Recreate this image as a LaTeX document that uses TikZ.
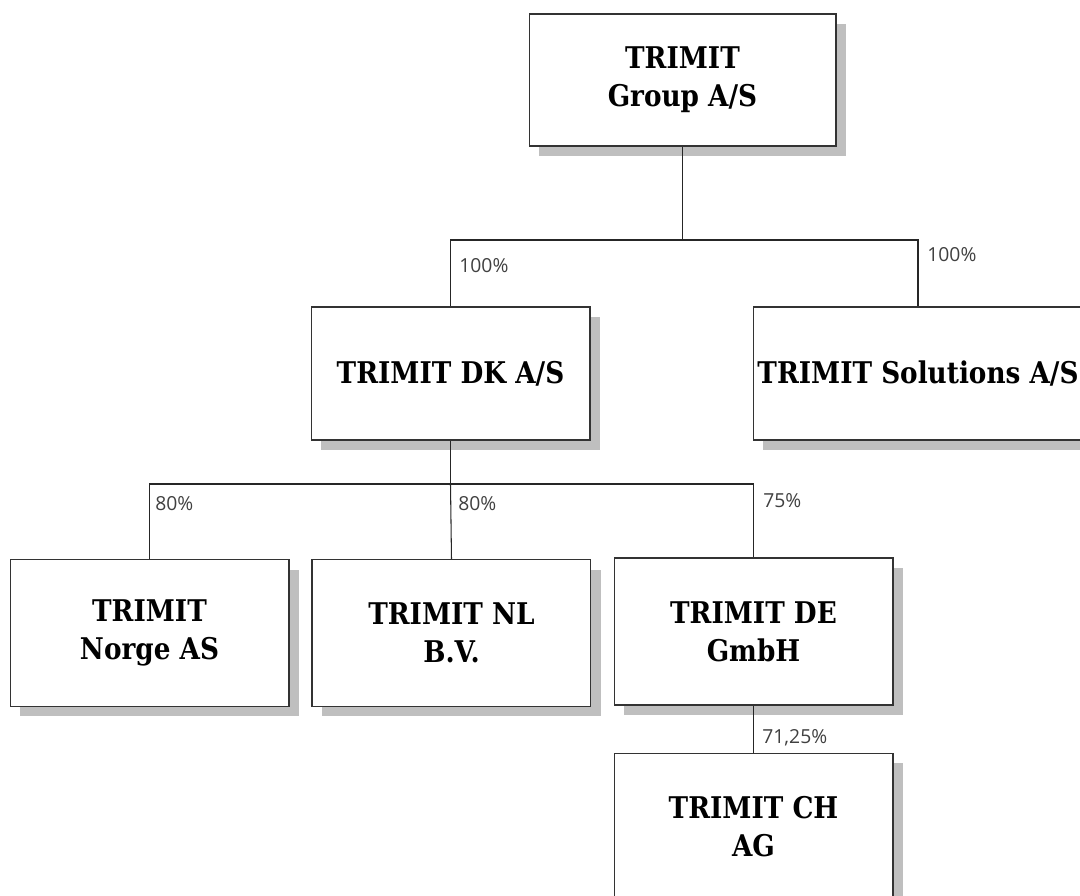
\documentclass[tikz,border=0pt]{standalone}
\usepackage{fontspec}
\newfontfamily\boxfont[FakeStretch=0.88]{DejaVu Serif}
\newfontfamily\pctfont{Open Sans}
\usetikzlibrary{positioning,shadows}

\begin{document}
\begin{tikzpicture}[x=0.02cm, y=-0.02cm,
  company/.style={draw=black!80, line width=0.6pt, fill=white, align=center,
    font=\boxfont\bfseries\fontsize{17}{21.5}\selectfont,
    drop shadow={shadow xshift=0.2cm, shadow yshift=-0.2cm, fill=black!25, opacity=1},
    minimum width=5.58cm, minimum height=2.94cm, inner sep=0pt},
  share/.style={anchor=west, font=\pctfont\fontsize{11}{13}\selectfont, text=black!75, inner sep=0pt},
  link/.style={draw=black!85, line width=0.6pt}]
  \useasboundingbox (0,0) rectangle (1080,896);
  % parent and first level
  \node[company, minimum width=6.14cm, minimum height=2.64cm] (group) at (682.5,80) {TRIMIT\\Group A/S};
  \node[company, minimum height=2.66cm] (dk) at (450.5,373.5) {TRIMIT DK A/S};
  \node[company, minimum width=6.6cm, minimum height=2.66cm] (sol) at (918,373.5) {TRIMIT Solutions A/S};
  % subsidiaries of the DK company
  \node[company] (norge) at (149.5,633) {TRIMIT\\Norge AS};
  \node[company, right=0.44cm of norge] (nl) {TRIMIT NL\\B.V.};
  \node[company] (de) at (753.5,631.5) {TRIMIT DE\\GmbH};
  \node[company, below=0.94cm of de] (ch) {TRIMIT CH\\AG};
  % ownership lines
  \coordinate (bus1) at (682.5,240);
  \draw[link] (group.south) -- (bus1) -| (dk.north);
  \draw[link] (bus1) -| (sol.north);
  \coordinate (bus2) at (450.5,484);
  \draw[link] (dk.south) -- (bus2) -| (norge.north);
  \draw[link] (bus2) -- (nl.north);
  \draw[link] (bus2) -| (de.north);
  \draw[link] (de.south) -- (ch.north);
  % shares
  \node[share] (p-dk) at (459,266) {100\%};
  \node[share] (p-sol) at (927,255) {100\%};
  \node[share] (p-norge) at (155,504) {80\%};
  \node[share] (p-nl) at (458,504) {80\%};
  \node[share] (p-de) at (763,501) {75\%};
  \node[share] (p-ch) at (762,738) {71,25\%};
\end{tikzpicture}
\end{document}
